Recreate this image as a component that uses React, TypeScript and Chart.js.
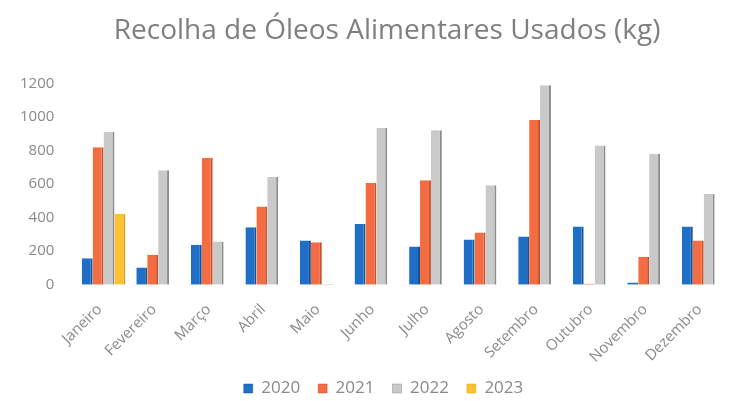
import React, { useEffect, useRef } from "react";
import { Chart, registerables } from "chart.js";

Chart.register(...registerables);

const months = ["Janeiro", "Fevereiro", "Março", "Abril", "Maio", "Junho", "Julho", "Agosto", "Setembro", "Outubro", "Novembro", "Dezembro"];
const v2020 = [158, 102, 238, 343, 263, 362, 228, 270, 288, 347, 12, 347];
const v2021 = [820, 178, 757, 467, 253, 607, 623, 311, 983, 5, 167, 263];
const v2022 = [913, 683, 257, 643, 3, 937, 921, 593, 1190, 831, 781, 541];
const v2023 = [421, null, null, null, null, null, null, null, null, null, null, null];
const yTicks = [0, 200, 400, 600, 800, 1000, 1200];

const FONT = "'Open Sans', Lato, sans-serif";
const GREY = "#8a8a8a";

export default function App() {
  const ref = useRef<HTMLCanvasElement>(null);
  useEffect(() => {
    document.body.style.margin = "0";
    const ctx = ref.current!.getContext("2d")!;
    const mk = (label: string, data: (number | null)[], bg: string, edge: string) => ({
      label,
      data,
      backgroundColor: bg,
      borderColor: edge,
      borderWidth: { right: 2, top: 0, left: 0, bottom: 0 },
      borderSkipped: false as const,
      categoryPercentage: 0.8,
      barPercentage: 1.0,
    });
    const chart = new Chart(ctx, {
      type: "bar",
      data: {
        labels: months,
        datasets: [
          mk("2020", v2020, "#1F6FC6", "#17539a"),
          mk("2021", v2021, "#F36C42", "#c8512c"),
          mk("2022", v2022, "#C9C9C9", "#8c8c8c"),
          mk("2023", v2023, "#FFC230", "#d9a21f"),
        ],
      },
      options: {
        animation: false,
        responsive: false,
        maintainAspectRatio: false,
        layout: { padding: { left: 6, right: -30, top: 6, bottom: -6 } },
        plugins: {
          title: {
            display: true,
            fullSize: true,
            text: " Recolha de Óleos Alimentares Usados (kg)",
            color: "#7f7f7f",
            font: { family: FONT, size: 28, weight: "normal" },
            padding: { top: 8, bottom: 36 },
          },
          legend: {
            position: "bottom",
            labels: {
              color: GREY,
              font: { family: FONT, size: 17 },
              boxWidth: 9,
              boxHeight: 9,
              padding: 18,
            },
          },
          tooltip: { enabled: false },
        },
        scales: {
          x: {
            grid: { display: false },
            border: { display: false },
            afterFit: (scale: any) => {
              scale.height -= 12;
            },
            ticks: {
              color: GREY,
              font: { family: FONT, size: 15 },
              maxRotation: 45,
              minRotation: 45,
              padding: 8,
              labelOffset: -4,
            },
          },
          y: {
            min: 0,
            max: 1200,
            afterBuildTicks: (axis: any) => {
              axis.ticks = yTicks.map((v) => ({ value: v }));
            },
            grid: { display: false },
            border: { display: false },
            ticks: {
              color: GREY,
              font: { family: FONT, size: 15 },
              padding: 14,
              callback: (v: any) => String(v),
            },
          },
        },
      },
    });
    return () => chart.destroy();
  }, []);
  return (
    <div style={{ width: 731, height: 401, background: "#fff" }}>
      <canvas ref={ref} width={731} height={401} />
    </div>
  );
}
